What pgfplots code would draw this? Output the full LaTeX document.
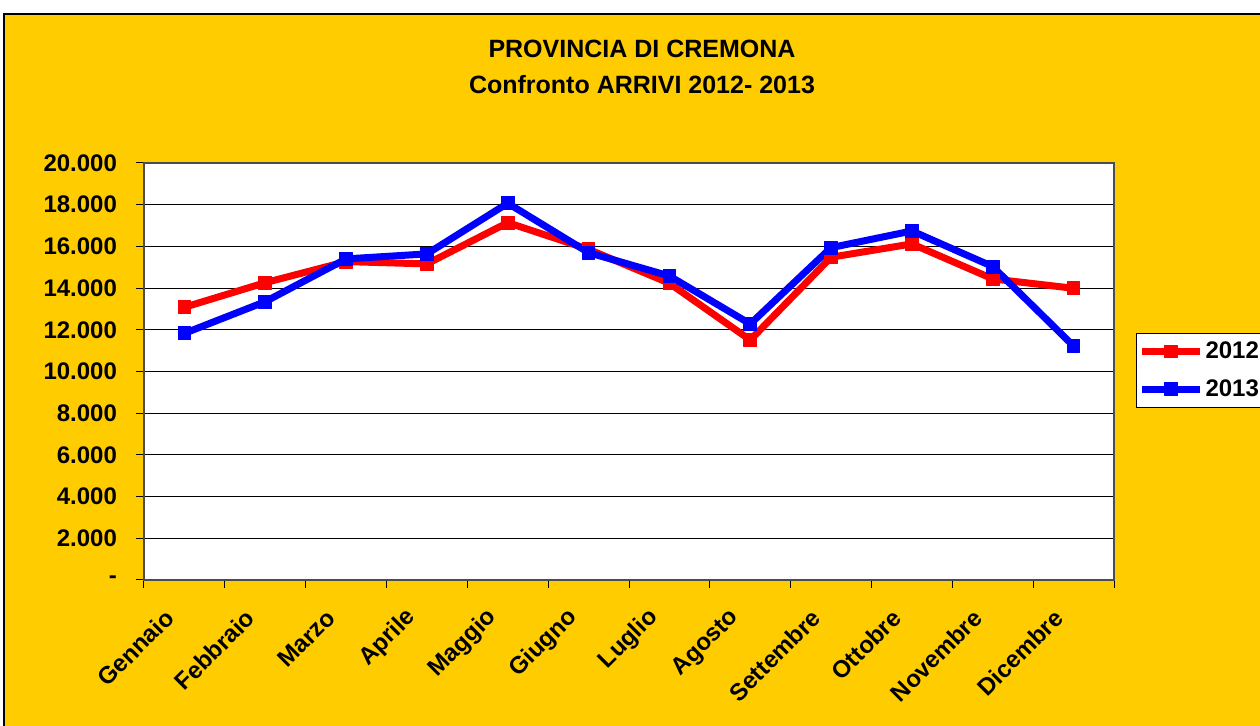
\documentclass[border=0pt]{standalone}
\usepackage{pgfplots}
\pgfplotsset{compat=1.18}
\usepackage{fontspec}
\setmainfont{Liberation Sans}
\definecolor{gold}{HTML}{FFCC00}
\definecolor{rosso}{HTML}{FF0000}
\definecolor{blu}{HTML}{0000FF}
\newcommand\f{\fontsize{12}{14}\selectfont\bfseries}
\begin{document}
\begin{tikzpicture}
\useasboundingbox (0pt,0pt) rectangle (630pt,363pt);
\clip (0pt,0pt) rectangle (630pt,363pt);
\fill[white] (0pt,0pt) rectangle (630pt,363pt);
\draw[black, line width=1pt, fill=gold] (2pt,-10pt) rectangle (650pt,356pt);
\node[align=center, font=\fontsize{12.5}{18}\selectfont\bfseries] at (321pt,329.5pt) {PROVINCIA DI CREMONA\\Confronto ARRIVI 2012- 2013};
\begin{axis}[at={(72pt,73pt)}, anchor=south west, scale only axis,
  width=485pt, height=208.5pt,
  xmin=-0.5, xmax=11.5, ymin=0, ymax=20000,
  scaled y ticks=false,
  xtick={0,...,11},
  xticklabels={Gennaio,Febbraio,Marzo,Aprile,Maggio,Giugno,Luglio,Agosto,Settembre,Ottobre,Novembre,Dicembre},
  minor xtick={-0.5,0.5,...,11.5},
  major x tick style={draw=none},
  tick align=outside, major tick length=4pt, minor tick length=4pt,
  xtick pos=bottom, ytick pos=left,
  ytick={0,2000,...,20000},
  yticklabels={{-\hspace{14pt}},2.000,4.000,6.000,8.000,10.000,12.000,14.000,16.000,18.000,20.000},
  yticklabel style={font=\f, xshift=-6pt},
  xticklabel style={font=\f, xshift=-5pt, yshift=-10.5pt, rotate=45, anchor=east},
  ymajorgrids, grid style={black, line width=0.5pt},
  axis line style={gray!60!black, line width=1pt},
  tick style={black, line width=0.5pt},
  axis background/.style={fill=white},
  legend style={at={(1.0227,0.592)}, anchor=north west, draw=black, line width=0.5pt, fill=white, font=\f, row sep=5pt, inner xsep=1pt, nodes={inner xsep=1pt}},
  legend cell align=left,
  legend image code/.code={\draw[mark repeat=2,mark phase=2] plot coordinates {(0pt,0pt)(14.5pt,0pt)(29pt,0pt)};},
  every axis plot/.append style={line width=3.5pt, line join=round, mark=square*, mark size=3.2pt, mark options={solid, line width=0.5pt}},
]
\addplot[rosso] coordinates {(0,13080) (1,14260) (2,15270) (3,15160) (4,17140) (5,15860) (6,14230) (7,11510) (8,15480) (9,16120) (10,14440) (11,13990)};
\addlegendentry{2012}
\addplot[blu] coordinates {(0,11830) (1,13350) (2,15400) (3,15640) (4,18070) (5,15700) (6,14580) (7,12280) (8,15940) (9,16740) (10,15030) (11,11220)};
\addlegendentry{2013}
\end{axis}
\end{tikzpicture}
\end{document}
